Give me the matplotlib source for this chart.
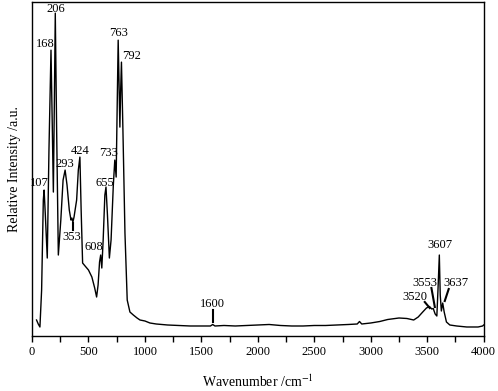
import matplotlib
matplotlib.use("Agg")
import matplotlib.pyplot as plt
from matplotlib.ticker import MultipleLocator

plt.rcParams["font.family"] = ["Liberation Serif", "DejaVu Serif"]
plt.rcParams["mathtext.fontset"] = "stix"

# spectrum (wavenumber, relative intensity)
wavenumber = [40, 55, 70, 85, 100, 107, 118, 135, 150, 168, 180, 189, 198, 206,
              218, 233, 255, 275, 293, 310, 330, 345, 353, 362, 372, 395, 410,
              424, 435, 448, 470, 500, 530, 555, 572, 585, 598, 608, 618, 630,
              645, 655, 668, 685, 700, 720, 733, 745, 755, 763, 770, 778, 785,
              792, 805, 823, 843, 867, 897, 930, 956, 1000, 1044, 1100, 1200,
              1300, 1400, 1500, 1580, 1600, 1620, 1700, 1800, 1900, 2000, 2100,
              2200, 2300, 2400, 2500, 2600, 2700, 2800, 2880, 2900, 2920, 3000,
              3080, 3150, 3250, 3320, 3380, 3420, 3460, 3493, 3520, 3540, 3553,
              3570, 3585, 3595, 3607, 3615, 3625, 3637, 3650, 3670, 3700, 3760,
              3850, 3950, 3990, 4000]
intensity = [16, 12, 9, 46, 136, 146, 121, 78, 186, 286, 206, 144, 236, 323,
             206, 81, 116, 156, 166, 151, 126, 116, 118, 114, 119, 136, 166,
             179, 126, 73, 70, 66, 59, 48, 39, 51, 74, 81, 68, 96,
             141, 149, 121, 78, 96, 151, 176, 159, 236, 296, 256, 209, 246,
             274, 206, 103, 36, 24, 21, 18, 16, 15, 13, 12, 11,
             10.5, 10, 10, 10, 11.5, 10, 10.5, 10, 10.5, 11, 11.5,
             10.5, 10, 10, 10.5, 10.5, 11, 11.5, 12, 14.5, 12, 13,
             14.5, 16.5, 18, 17.5, 16, 19, 24, 28, 29.5, 27, 27.5,
             22, 20, 46, 81, 41, 25, 33, 24, 14, 11, 10,
             9, 9, 10, 11]

# peak labels: text, label x, label y
peak_text = ["107", "168", "206", "293", "424", "608", "655", "733", "763",
             "792", "3607"]
peak_x = [65, 115, 212, 292, 425, 549, 645, 675, 764, 882, 3611]
peak_y = [153, 292, 327, 172, 185, 89, 153, 183, 303, 280, 91]

# labels with pointer lines: text, label x, label y, line x0, y0, x1, y1
ptr_text = ["353", "1600", "3520", "3553", "3637"]
ptr_x = [351, 1599, 3390, 3478, 3750]
ptr_y = [99, 32, 39, 53, 53]
line_x0 = [360, 1600, 3478, 3537, 3690]
line_y0 = [106, 26, 34, 48, 47]
line_x1 = [360, 1600, 3522, 3567, 3655]
line_y1 = [113, 14, 28, 29, 35]

fig = plt.figure(figsize=(4.98, 3.91), dpi=100)
ax = fig.add_axes([0.0643, 0.1407, 0.907, 0.853])

ax.plot(wavenumber, intensity, color="black", linewidth=1.0)

for t, x, y in zip(peak_text, peak_x, peak_y):
    ax.text(x, y, t, fontsize=9, ha="center", va="center")
for t, x, y, a0, b0, a1, b1 in zip(ptr_text, ptr_x, ptr_y,
                                   line_x0, line_y0, line_x1, line_y1):
    ax.text(x, y, t, fontsize=9, ha="center", va="center")
    ax.plot([a0, a1], [b0, b1], color="black", linewidth=1.5)

ax.set_xlim(0, 4000)
ax.set_ylim(0, 333.7)
ax.xaxis.set_major_locator(MultipleLocator(500))
ax.xaxis.set_minor_locator(MultipleLocator(250))
ax.tick_params(axis="x", which="both", direction="out", length=4, width=1,
               labelsize=9)
ax.set_yticks([])
for s in ax.spines.values():
    s.set_linewidth(1.0)

ax.set_xlabel("Wavenumber /cm$^{-1}$", fontsize=10, labelpad=11)
ax.set_ylabel("Relative Intensity /a.u.", fontsize=10, labelpad=8)

fig.savefig("out.png", dpi=100)
